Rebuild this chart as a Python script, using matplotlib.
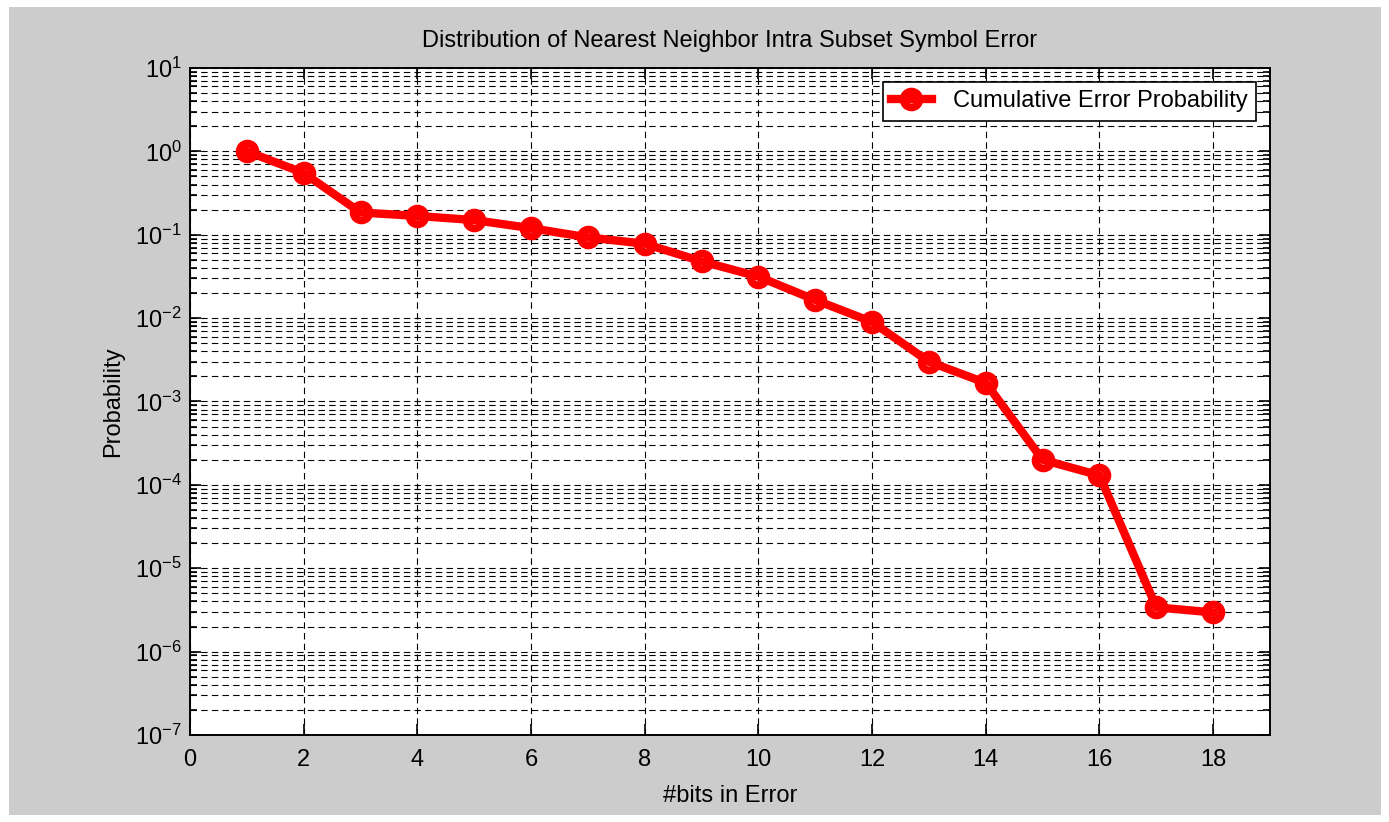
import numpy as np
import matplotlib
matplotlib.use('Agg')
import matplotlib.pyplot as plt
from matplotlib.patches import Rectangle
from matplotlib.ticker import LogLocator, NullFormatter

plt.rcParams['font.family'] = ['Liberation Sans', 'DejaVu Sans']
plt.rcParams['mathtext.fontset'] = 'custom'
plt.rcParams['mathtext.rm'] = 'Liberation Sans'

# cumulative error probability vs number of bits in error
nbits = np.arange(1, 19)
prob = [1.0, 0.55, 0.185, 0.168, 0.15, 0.12, 0.093, 0.078, 0.048, 0.0315,
        0.0165, 0.009, 0.003, 0.00167, 2.0e-4, 1.3e-4, 3.4e-6, 2.95e-6]
xticks = np.arange(0, 20, 2)

gray = '#cccccc'
fig = plt.figure(figsize=(13.89, 8.22), dpi=100, facecolor='white')
fig.patches.append(Rectangle((9/1389, 7/822), 1372/1389, 808/822,
                             transform=fig.transFigure, facecolor=gray,
                             edgecolor='none', zorder=-10))
ax = fig.add_axes([190/1389, 1 - 735/822, 1080/1389, 667/822])
ax.set_facecolor('white')

ax.semilogy(nbits, prob, color='red', lw=6, marker='o', ms=11.5,
            mew=5.5, mfc='none', mec='red', label='Cumulative Error Probability',
            solid_joinstyle='round', zorder=5)

ax.set_xlim(0, 19)
ax.set_ylim(1e-7, 1e1)
ax.set_xticks(xticks)
ax.yaxis.set_major_locator(LogLocator(base=10, numticks=20))
ax.yaxis.set_minor_locator(LogLocator(base=10, subs=np.arange(2, 10), numticks=20))
ax.yaxis.set_minor_formatter(NullFormatter())

dash = (0, (5.8, 3.8))
ax.grid(True, which='major', axis='x', color='black', lw=0.8, linestyle=dash)
ax.grid(True, which='both', axis='y', color='black', lw=0.8, linestyle=dash)

for s in ax.spines.values():
    s.set_linewidth(1.4)
    s.set_zorder(6)
ax.tick_params(which='both', direction='in', top=True, right=True,
               labelsize=17, width=1.2, colors='black')
ax.tick_params(which='major', length=8)
ax.tick_params(which='minor', length=5)
ax.tick_params(axis='x', which='minor', bottom=False, top=False)
ax.tick_params(axis='x', pad=10)
ax.tick_params(axis='y', pad=6)

ax.set_title('Distribution of Nearest Neighbor Intra Subset Symbol Error',
             fontsize=17, pad=15)
ax.set_xlabel('#bits in Error', fontsize=17, labelpad=10)
ax.set_ylabel('Probability', fontsize=17, labelpad=8)

leg = ax.legend(loc='upper right', fontsize=17, fancybox=False, framealpha=1,
                edgecolor='black', borderaxespad=0.6, handlelength=1.7,
                borderpad=0.35, handletextpad=0.9)
leg.get_frame().set_linewidth(1.2)
leg.set_zorder(7)

fig.savefig('out.png', dpi=100, facecolor=fig.get_facecolor())
